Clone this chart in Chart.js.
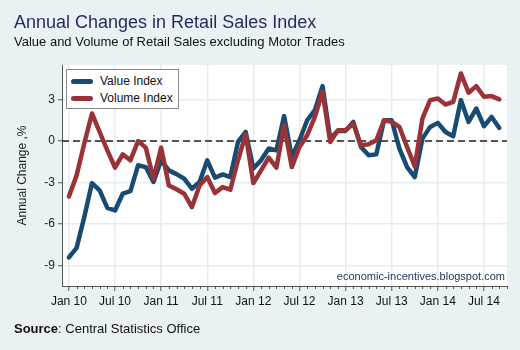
<!DOCTYPE html>
<html>
<head>
<meta charset="utf-8">
<script src="https://cdn.jsdelivr.net/npm/chart.js@4/dist/chart.umd.min.js"></script>
<style>
body { margin: 0; background: #e9f1f4; font-family: "Liberation Sans", Arial, sans-serif; }
#wrap { position: relative; width: 520px; height: 350px; overflow: hidden; }
#chart { position: absolute; left: 0; top: 0; }
.txt { position: absolute; white-space: nowrap; }
#title { left: 14px; top: 13px; font-size: 18px; line-height: 18px; color: #1f2b5b; }
#subtitle { left: 14px; top: 35px; font-size: 13px; line-height: 13px; color: #111; }
#source { left: 14px; top: 322px; font-size: 13px; line-height: 13px; color: #111; }
#credit { right: 15px; top: 271px; font-size: 11px; line-height: 11px; color: #1f3864; }
#legend { position: absolute; left: 66px; top: 69px; width: 111px; height: 38px; border: 1px solid #8a8a8a; background: #fff; }
.item { position: absolute; left: 3px; height: 16px; font-size: 12px; line-height: 16px; color: #111; }
.swatch { position: absolute; left: 1px; top: 6px; width: 22px; height: 5px; border-radius: 2.5px; }
.item span { position: absolute; left: 30px; top: 0; white-space: nowrap; }
</style>
</head>
<body>
<div id="wrap">
  <canvas id="chart" width="520" height="350"></canvas>
  <div class="txt" id="title">Annual Changes in Retail Sales Index</div>
  <div class="txt" id="subtitle">Value and Volume of Retail Sales excluding Motor Trades</div>
  <div class="txt" id="source"><b>Source</b>: Central Statistics Office</div>
  <div class="txt" id="credit">economic-incentives.blogspot.com</div>
  <div id="legend"></div>
</div>
<script>
const months = [
  'Jan 10', 'Feb 10', 'Mar 10', 'Apr 10', 'May 10', 'Jun 10', 'Jul 10', 'Aug 10', 'Sep 10', 'Oct 10', 'Nov 10', 'Dec 10',
  'Jan 11', 'Feb 11', 'Mar 11', 'Apr 11', 'May 11', 'Jun 11', 'Jul 11', 'Aug 11', 'Sep 11', 'Oct 11', 'Nov 11', 'Dec 11',
  'Jan 12', 'Feb 12', 'Mar 12', 'Apr 12', 'May 12', 'Jun 12', 'Jul 12', 'Aug 12', 'Sep 12', 'Oct 12', 'Nov 12', 'Dec 12',
  'Jan 13', 'Feb 13', 'Mar 13', 'Apr 13', 'May 13', 'Jun 13', 'Jul 13', 'Aug 13', 'Sep 13', 'Oct 13', 'Nov 13', 'Dec 13',
  'Jan 14', 'Feb 14', 'Mar 14', 'Apr 14', 'May 14', 'Jun 14', 'Jul 14', 'Aug 14', 'Sep 14'
];

const valueIndex = [
  -8.43, -7.74, -5.5, -3.05, -3.58, -4.84, -5.03, -3.82, -3.63, -1.76, -1.89, -2.97,
  -1.4, -2.13, -2.4, -2.73, -3.46, -2.97, -1.4, -2.66, -2.42, -2.61, -0.07, 0.65,
  -2.0, -1.4, -0.55, -0.68, 1.8, -1.16, 0.05, 1.5, 2.23, 3.97, 0.17, 0.73,
  0.73, 1.38, -0.44, -1.04, -0.97, 1.5, 1.5, -0.55, -1.89, -2.61, 0.17, 1.02,
  1.31, 0.65, 0.34, 2.96, 1.38, 2.35, 1.07, 1.74, 0.94
];

const volumeIndex = [
  -4.02, -2.49, -0.19, 1.99, 0.65, -0.68, -1.93, -0.97, -1.4, 0.0, -0.48, -2.73,
  -0.48, -3.22, -3.5, -3.82, -4.79, -3.22, -2.61, -3.77, -3.34, -3.53, -1.4, 0.49,
  -3.05, -2.13, -1.21, -1.93, 1.14, -1.89, -0.44, 0.41, 1.74, 3.56, -0.07, 0.78,
  0.78, 1.26, -0.31, -0.24, 0.05, 1.5, 1.38, 1.02, -0.44, -1.84, 1.63, 2.96,
  3.08, 2.64, 2.83, 4.89, 3.49, 3.97, 3.2, 3.25, 3.01
];

const seriesNames = ['Value Index', 'Volume Index'];
const seriesColors = ['#184a72', '#9a3338'];
const xTickLabels = ['Jan 10', 'Jul 10', 'Jan 11', 'Jul 11', 'Jan 12', 'Jul 12', 'Jan 13', 'Jul 13', 'Jan 14', 'Jul 14'];
const yTicks = [-9, -6, -3, 0, 3];

// html legend inside the plot
const legend = document.getElementById('legend');
seriesNames.forEach((name, i) => {
  const item = document.createElement('div');
  item.className = 'item';
  item.style.top = (3 + i * 17) + 'px';
  item.innerHTML = '<div class="swatch" style="background:' + seriesColors[i] + '"></div><span>' + name + '</span>';
  legend.appendChild(item);
});

const plotBackground = {
  id: 'plotBackground',
  beforeDraw(chart) {
    const { ctx, chartArea: a } = chart;
    ctx.save();
    ctx.fillStyle = '#ffffff';
    ctx.fillRect(a.left, a.top, a.right - a.left, a.bottom - a.top);
    ctx.restore();
  }
};

const zeroLine = {
  id: 'zeroLine',
  beforeDatasetsDraw(chart) {
    const { ctx, chartArea: a } = chart;
    const y = chart.scales.y.getPixelForValue(0);
    ctx.save();
    ctx.strokeStyle = '#222';
    ctx.lineWidth = 1.5;
    ctx.setLineDash([7, 4]);
    ctx.beginPath();
    ctx.moveTo(a.left, y);
    ctx.lineTo(a.right, y);
    ctx.stroke();
    ctx.restore();
  }
};

const minorTicks = {
  id: 'minorTicks',
  afterDraw(chart) {
    const { ctx, chartArea: a } = chart;
    const x = chart.scales.x;
    const major = xTickLabels.map(l => months.indexOf(l));
    ctx.save();
    ctx.strokeStyle = '#555';
    ctx.lineWidth = 1;
    for (let i = Math.ceil(x.min); i <= Math.floor(x.max); i++) {
      if (major.includes(i)) continue;
      const px = Math.round(x.getPixelForValue(i)) + 0.5;
      ctx.beginPath();
      ctx.moveTo(px, a.bottom);
      ctx.lineTo(px, a.bottom + 3);
      ctx.stroke();
    }
    ctx.restore();
  }
};

const font = { family: '"Liberation Sans", Arial, sans-serif', size: 12 };

new Chart(document.getElementById('chart'), {
  type: 'line',
  data: {
    datasets: [
      {
        label: seriesNames[0],
        data: valueIndex.map((v, i) => ({ x: i, y: v })),
        borderColor: seriesColors[0],
        order: 1
      },
      {
        label: seriesNames[1],
        data: volumeIndex.map((v, i) => ({ x: i, y: v })),
        borderColor: seriesColors[1],
        order: 0
      }
    ]
  },
  options: {
    responsive: false,
    animation: false,
    layout: { padding: { top: 65, right: 13, bottom: 34, left: 0 } },
    elements: {
      point: { radius: 0 },
      line: { borderWidth: 4.5, tension: 0, borderJoinStyle: 'round', borderCapStyle: 'round', fill: false }
    },
    scales: {
      x: {
        type: 'linear',
        min: -0.9,
        max: 57,
        afterBuildTicks: s => { s.ticks = xTickLabels.map(l => ({ value: months.indexOf(l) })); },
        afterFit: s => { s.height = 30; },
        ticks: {
          color: '#111',
          font: font,
          padding: 3,
          maxRotation: 0,
          autoSkip: false,
          callback: v => months[v]
        },
        grid: { color: '#e6edf0', lineWidth: 1.5, tickLength: 5, tickColor: '#555', tickWidth: 1 },
        border: { display: true, color: '#555', width: 1 }
      },
      y: {
        min: -10.5,
        max: 5.5,
        afterBuildTicks: s => { s.ticks = yTicks.map(v => ({ value: v })); },
        afterFit: s => { s.width = 62; },
        ticks: { color: '#222', font: font, padding: 3 },
        grid: { color: '#e6edf0', lineWidth: 1.5, tickLength: 4, tickColor: '#555', tickWidth: 1 },
        border: { display: true, color: '#555', width: 1 },
        title: {
          display: true,
          text: 'Annual Change ,%',
          color: '#222',
          font: font,
          padding: { top: 15, bottom: 0 }
        }
      }
    },
    plugins: {
      legend: { display: false },
      tooltip: { enabled: false }
    }
  },
  plugins: [plotBackground, zeroLine, minorTicks]
});
</script>
</body>
</html>
